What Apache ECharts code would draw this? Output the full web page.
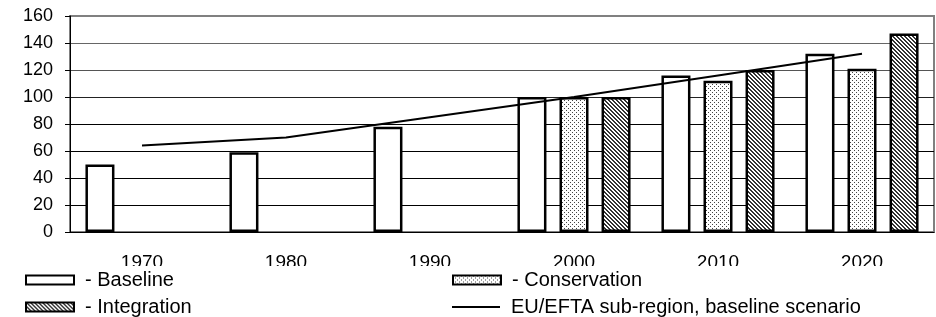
<!DOCTYPE html>
<html>
<head>
<meta charset="utf-8">
<script src="https://cdn.jsdelivr.net/npm/echarts@6/dist/echarts.min.js"></script>
<style>
    html, body { margin: 0; padding: 0; background: #fff; }
    #chart { width: 936px; height: 317px; }
</style>
</head>
<body>
<div id="chart"></div>
<script>
// data
var years = ['1970', '1980', '1990', '2000', '2010', '2020'];
var baseline = [50, 59, 78, 100, 116, 132];
var conservation = [null, null, null, 100, 112, 121];
var integration = [null, null, null, 100, 120, 147];
var euEfta = [64, 70, 85, 100, 116, 132];
var yTicks = { min: 0, max: 160, interval: 20 };

// fill patterns
function dotPattern() {
    var c = document.createElement('canvas');
    c.width = 4; c.height = 4;
    var g = c.getContext('2d');
    g.fillStyle = '#fff';
    g.fillRect(0, 0, 4, 4);
    g.fillStyle = '#444';
    g.fillRect(0, 0, 1, 1);
    g.fillRect(2, 2, 1, 1);
    return { image: c, repeat: 'repeat' };
}
function hatchPattern() {
    var c = document.createElement('canvas');
    c.width = 4; c.height = 4;
    var g = c.getContext('2d');
    g.fillStyle = '#fff';
    g.fillRect(0, 0, 4, 4);
    g.fillStyle = '#333';
    for (var i = 0; i < 4; i++) {
        g.fillRect(i, i, 1, 1);
        g.fillRect((i + 1) % 4, i, 1, 1);
    }
    return { image: c, repeat: 'repeat' };
}

var chart = echarts.init(document.getElementById('chart'));
var font = 'Liberation Sans, Arial, sans-serif';

function legendAt(name, left, top, prefix, iconH) {
    return {
        data: [{ name: name, icon: 'rect' }],
        left: left,
        top: top,
        padding: 0,
        z: 10,
        itemWidth: 48,
        itemHeight: iconH,
        selectedMode: false,
        formatter: function (n) { return prefix + n; },
        textStyle: { fontFamily: font, fontSize: 20, lineHeight: 20, color: '#000', padding: [0, 0, 0, 6] }
    };
}

var option = {
    animation: false,
    backgroundColor: '#fff',
    grid: {
        left: 70, right: 2, top: 16, bottom: 85,
        show: true,
        borderColor: '#808080',
        borderWidth: 2
    },
    // the category labels are cut off at the bottom in the original
    graphic: [{
        type: 'rect',
        z: 5,
        silent: true,
        shape: { x: 0, y: 266, width: 936, height: 60 },
        style: { fill: '#fff' }
    }],
    legend: [
        legendAt('Baseline', 25, 270, '- ', 9),
        legendAt('Integration', 25, 297, '- ', 9),
        legendAt('Conservation', 452, 270, '- ', 9),
        legendAt('EU/EFTA sub-region, baseline scenario', 452, 297, '', 2)
    ],
    xAxis: {
        type: 'category',
        data: years,
        axisLine: { lineStyle: { color: '#000', width: 1 } },
        axisTick: { length: 5, lineStyle: { color: '#000' } },
        axisLabel: { fontFamily: font, fontSize: 19, color: '#000', margin: 21 }
    },
    yAxis: {
        type: 'value',
        min: yTicks.min,
        max: yTicks.max,
        interval: yTicks.interval,
        axisLine: { show: true, lineStyle: { color: '#000', width: 1 } },
        axisTick: { show: true, length: 5, lineStyle: { color: '#000' } },
        axisLabel: { fontFamily: font, fontSize: 18, color: '#000', margin: 17 },
        splitLine: {
            lineStyle: {
                color: ['#000', '#000', '#000', '#000', '#000', '#222', '#555', '#666', '#808080'],
                width: 1
            }
        }
    },
    series: [
        {
            name: 'Baseline',
            type: 'bar',
            data: baseline,
            barWidth: 29,
            barGap: '45%',
            itemStyle: { color: '#fff', borderColor: '#000', borderWidth: 2.5 }
        },
        {
            name: 'Conservation',
            type: 'bar',
            data: conservation,
            barWidth: 29,
            barGap: '45%',
            itemStyle: { color: dotPattern(), borderColor: '#000', borderWidth: 2.5 }
        },
        {
            name: 'Integration',
            type: 'bar',
            data: integration,
            barWidth: 29,
            barGap: '45%',
            itemStyle: { color: hatchPattern(), borderColor: '#000', borderWidth: 2.5 }
        },
        {
            name: 'EU/EFTA sub-region, baseline scenario',
            type: 'line',
            data: euEfta,
            symbol: 'none',
            lineStyle: { color: '#000', width: 2 },
            itemStyle: { color: '#000' },
            z: 5
        }
    ]
};
chart.setOption(option);
</script>
</body>
</html>
